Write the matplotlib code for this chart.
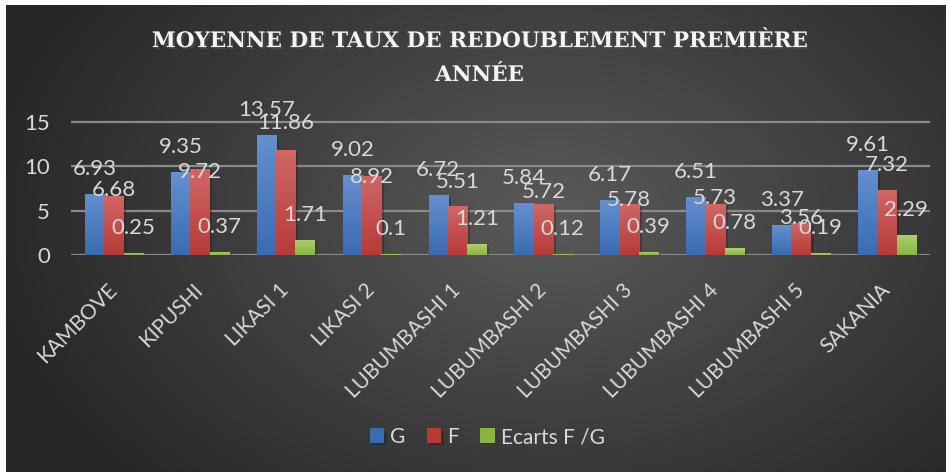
import numpy as np
import matplotlib
matplotlib.use('Agg')
import matplotlib.pyplot as plt
import matplotlib.patheffects as pe
from matplotlib.colors import to_rgb

# donnees
categories = ['KAMBOVE', 'KIPUSHI', 'LIKASI 1', 'LIKASI 2', 'LUBUMBASHI 1',
              'LUBUMBASHI 2', 'LUBUMBASHI 3', 'LUBUMBASHI 4', 'LUBUMBASHI 5',
              'SAKANIA']
g_vals = [6.93, 9.35, 13.57, 9.02, 6.72, 5.84, 6.17, 6.51, 3.37, 9.61]
f_vals = [6.68, 9.72, 11.86, 8.92, 5.51, 5.72, 5.78, 5.73, 3.56, 7.32]
ecart_vals = [0.25, 0.37, 1.71, 0.1, 1.21, 0.12, 0.39, 0.78, 0.19, 2.29]
series_names = ['G', 'F', 'Ecarts F /G']

# decalage vertical des etiquettes rouges (px), comme sur l'original
red_dy_px = [6, -3, 27, -1, 24, 12, 4, 6, 5, 25]

TXT = '#d9d9d9'
FONT = 'Lato'
FS = 16
FS_CAT = 15
DPI = 100

fig = plt.figure(figsize=(9.46, 4.72), dpi=DPI)
fig.patch.set_facecolor('white')

# fond : degrade radial sombre
bg = fig.add_axes([6/946, 0, 940/946, 467/472])
bg.set_axis_off()
yy, xx = np.mgrid[0:1:300j, 0:1:600j]
r = np.sqrt(((xx - 0.58)/0.62)**2 + ((yy - 0.45)/0.85)**2)
r = np.clip(r, 0, 1)
c_in = np.array(to_rgb('#5a5a5a'))
c_out = np.array(to_rgb('#262626'))
img = c_in[None, None, :]*(1 - r[..., None]) + c_out[None, None, :]*r[..., None]
bg.imshow(img, aspect='auto', extent=[0, 1, 0, 1], origin='upper')
bg.set_xlim(0, 1)
bg.set_ylim(0, 1)

ax = fig.add_axes([71/946, 217/472, 859/946, 0.3007])
ax.set_facecolor('none')
for s in ax.spines.values():
    s.set_visible(False)

x = np.arange(len(categories))
w = 0.225
colors = [('#6490cf', '#3a6cb2'), ('#cf6866', '#b73a38'), ('#aed070', '#8ab442')]
all_vals = [g_vals, f_vals, ecart_vals]
bars_all = []
for i, vals in enumerate(all_vals):
    top, bot = colors[i]
    bars = ax.bar(x + (i - 1)*w, vals, w, color=bot, label=series_names[i],
                  zorder=3, linewidth=0)
    grad = np.linspace(0, 1, 64)[:, None, None]
    ct = np.array(to_rgb(top))
    cb = np.array(to_rgb(bot))
    gimg = ct*(1 - grad) + cb*grad
    for b in bars:
        b.set_path_effects([pe.SimplePatchShadow(offset=(2, -1.5), alpha=0.35),
                            pe.Normal()])
        im = ax.imshow(gimg, aspect='auto', origin='upper', zorder=4,
                       extent=[b.get_x(), b.get_x() + b.get_width(), 0, b.get_height()])
        im.set_clip_path(b)
    bars_all.append(bars)

ax.set_xlim(-0.5, len(categories) - 0.5)
ax.set_ylim(0, 16)
ax.set_yticks([0, 5, 10, 15])
ax.yaxis.grid(True, color='#8a8a8a', linewidth=1.6, zorder=0)
ax.set_axisbelow(True)
ax.tick_params(axis='y', length=0, pad=15, labelsize=FS, labelcolor=TXT)
ax.tick_params(axis='x', length=0, pad=23, labelsize=FS_CAT, labelcolor=TXT)
ax.set_xticks(x)
ax.set_xticklabels(categories, rotation=45, ha='right', va='center',
                   rotation_mode='anchor')
for lab in ax.get_xticklabels() + ax.get_yticklabels():
    lab.set_fontfamily(FONT)

# etiquettes de valeurs
for i, (vals, bars) in enumerate(zip(all_vals, bars_all)):
    for j, (v, b) in enumerate(zip(vals, bars)):
        dy = red_dy_px[j] if i == 1 else 25
        ax.annotate(f'{v:g}', xy=(b.get_x() + b.get_width()/2, v),
                    xytext=(0, dy*72/DPI), textcoords='offset points',
                    ha='center', va='center', fontsize=FS, color=TXT,
                    family=FONT, zorder=6, annotation_clip=False)

# titre
fig.text(0.507, 0.877, 'MOYENNE DE TAUX DE REDOUBLEMENT PREMIÈRE\nANNÉE',
         ha='center', va='center', fontsize=15.5, fontweight='bold',
         family='DejaVu Serif', color='#f4f4f4', linespacing=1.7,
         path_effects=[pe.withSimplePatchShadow(offset=(1.5, -1.5), alpha=0.8)])

leg = fig.legend(loc='center', bbox_to_anchor=(0.515, 0.074), ncol=3,
                 frameon=False, handlelength=0.7, handleheight=0.7,
                 handletextpad=0.3, columnspacing=1.0,
                 prop={'family': FONT, 'size': FS_CAT})
for t in leg.get_texts():
    t.set_color(TXT)

fig.savefig('out.png', dpi=DPI)
